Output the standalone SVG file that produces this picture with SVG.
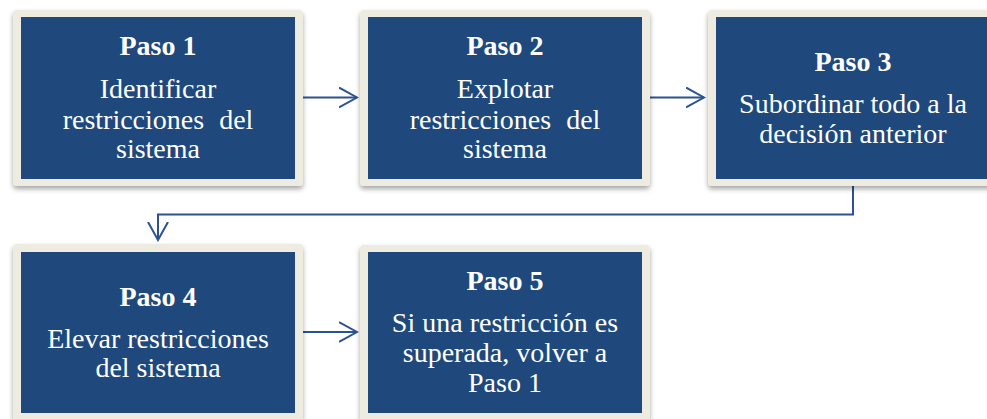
<svg xmlns="http://www.w3.org/2000/svg" width="987" height="419" viewBox="0 0 987 419">
<defs>
<style>
.frame{fill:#EEECE1;}
.inner{fill:#1F497D;}
.t{font-family:"Liberation Serif","Times New Roman",serif;font-size:28px;fill:#FFFFFF;text-anchor:middle;}
.b{font-weight:bold;}
.conn{fill:none;stroke:#2C5291;stroke-width:2;}
</style>
<filter id="sh" x="-10%" y="-10%" width="120%" height="130%">
<feDropShadow dx="0" dy="3" stdDeviation="2.5" flood-color="#000000" flood-opacity="0.35"/>
</filter>
<marker id="arr" markerWidth="20" markerHeight="24" refX="18" refY="11" orient="auto" markerUnits="userSpaceOnUse">
<path d="M0,1 L18,11 L0,21" fill="none" stroke="#2C5291" stroke-width="2"/>
</marker>
</defs>
<rect width="987" height="419" fill="#FFFFFF"/>
<g id="connectors">
<path class="conn" d="M303,97.5 L357,97.5" marker-end="url(#arr)"/>
<path class="conn" d="M650,97.5 L704,97.5" marker-end="url(#arr)"/>
<path class="conn" d="M853,186 L853,214.5 L158,214.5 L158,240" marker-end="url(#arr)"/>
<path class="conn" d="M303,332 L357,332" marker-end="url(#arr)"/>
</g>
<g id="paso1">
<rect class="frame" x="13" y="10" width="290" height="176" rx="4" filter="url(#sh)"/>
<rect class="inner" x="21" y="17" width="274" height="162"/>
<text class="t b" x="158" y="55">Paso 1</text>
<text class="t" x="158" y="98">Identificar</text>
<text class="t" x="158" y="129" word-spacing="8">restricciones del</text>
<text class="t" x="158" y="158">sistema</text>
</g>
<g id="paso2">
<rect class="frame" x="360" y="10" width="290" height="176" rx="4" filter="url(#sh)"/>
<rect class="inner" x="368" y="17" width="274" height="162"/>
<text class="t b" x="505" y="55">Paso 2</text>
<text class="t" x="505" y="98">Explotar</text>
<text class="t" x="505" y="129" word-spacing="8">restricciones del</text>
<text class="t" x="505" y="158">sistema</text>
</g>
<g id="paso3">
<rect class="frame" x="708" y="10" width="290" height="176" rx="4" filter="url(#sh)"/>
<rect class="inner" x="716" y="17" width="274" height="162"/>
<text class="t b" x="853" y="71">Paso 3</text>
<text class="t" x="853" y="113">Subordinar todo a la</text>
<text class="t" x="853" y="143">decisión anterior</text>
</g>
<g id="paso4">
<rect class="frame" x="13" y="244" width="290" height="176" rx="4" filter="url(#sh)"/>
<rect class="inner" x="21" y="252" width="274" height="161"/>
<text class="t b" x="158" y="306">Paso 4</text>
<text class="t" x="158" y="348">Elevar restricciones</text>
<text class="t" x="158" y="377">del sistema</text>
</g>
<g id="paso5">
<rect class="frame" x="360" y="245" width="290" height="176" rx="4" filter="url(#sh)"/>
<rect class="inner" x="368" y="252" width="274" height="161"/>
<text class="t b" x="505" y="290">Paso 5</text>
<text class="t" x="505" y="332">Si una restricción es</text>
<text class="t" x="505" y="362">superada, volver a</text>
<text class="t" x="505" y="392">Paso 1</text>
</g>
</svg>
